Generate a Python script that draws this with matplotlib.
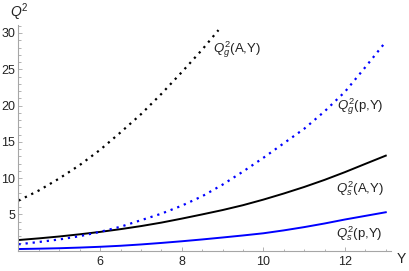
import matplotlib
matplotlib.use("Agg")
import matplotlib.pyplot as plt
from matplotlib.ticker import MultipleLocator

plt.rcParams['font.family'] = 'Liberation Sans'
plt.rcParams['mathtext.fontset'] = 'custom'
plt.rcParams['mathtext.rm'] = 'Liberation Sans'
plt.rcParams['mathtext.it'] = 'Liberation Sans:italic'

# rapidity grid and saturation scales
Y = [4.0, 4.5, 5.0, 5.5, 6.0, 6.5, 7.0, 7.5, 8.0, 8.5,
     9.0, 9.5, 10.0, 10.5, 11.0, 11.5, 12.0, 12.5, 13.0]
qs_p = [0.23, 0.28, 0.34, 0.43, 0.54, 0.68, 0.86, 1.07, 1.30, 1.55,
        1.82, 2.10, 2.40, 2.80, 3.25, 3.75, 4.30, 4.80, 5.30]
qs_A = [1.47, 1.70, 1.96, 2.26, 2.59, 2.97, 3.39, 3.87, 4.42, 5.00,
        5.60, 6.27, 7.04, 7.88, 8.78, 9.76, 10.83, 11.97, 13.10]
qg_p = [0.88, 1.20, 1.55, 2.00, 2.60, 3.30, 4.20, 5.10, 6.20, 7.50,
        9.10, 10.90, 12.80, 14.80, 16.80, 19.20, 21.90, 25.30, 28.80]
Y_gA = [4.0, 4.5, 5.0, 5.5, 6.0, 6.5, 7.0, 7.5, 8.0, 8.5, 8.9]
qg_A = [6.9, 8.3, 9.96, 11.8, 13.9, 16.3, 18.8, 21.6, 24.6, 27.7, 30.4]

fig = plt.figure(figsize=(4.09, 2.71), dpi=100)
ax = fig.add_axes([0.0452, 0.0749, 0.911, 0.8328])

dots = (0, (1, 2.2))
ax.plot(Y, qs_p, color='#0000ff', lw=1.4)
ax.plot(Y, qs_A, color='black', lw=1.4)
ax.plot(Y, qg_p, color='#0000ff', lw=1.6, linestyle=dots)
ax.plot(Y_gA, qg_A, color='black', lw=1.6, linestyle=dots)

ax.set_xlim(4, 13.13)
ax.set_ylim(0, 31.1)

ax.set_xticks([6, 8, 10, 12])
ax.set_yticks([5, 10, 15, 20, 25, 30])
ax.xaxis.set_minor_locator(MultipleLocator(0.5))
ax.yaxis.set_minor_locator(MultipleLocator(1))

gray = '#a6a6a6'
for s in ['top', 'right']:
    ax.spines[s].set_visible(False)
for s in ['left', 'bottom']:
    ax.spines[s].set_color(gray)
    ax.spines[s].set_linewidth(0.8)
ax.tick_params(which='both', direction='in', color=gray, width=0.6,
               labelsize=9, labelcolor='#222222')
ax.tick_params(which='major', length=3)
ax.tick_params(which='minor', length=1.8)
ax.tick_params(axis='x', pad=3.5)
ax.tick_params(axis='y', pad=2.5)

lab = dict(fontsize=9.5, ha='left', va='center', color='#222222')
ax.text(8.77, 27.7, r'$Q_g^2$(A,Y)', **lab)
ax.text(11.81, 19.9, r'$Q_g^2$(p,Y)', **lab)
ax.text(11.78, 8.6, r'$Q_s^2$(A,Y)', **lab)
ax.text(11.78, 2.3, r'$Q_s^2$(p,Y)', **lab)

fig.text(0.0465, 0.955, r'$Q^2$', fontsize=10, ha='center', va='center',
         color='#222222')
fig.text(0.980, 0.044, 'Y', fontsize=10, ha='center', va='center',
         color='#222222')

fig.savefig('out.png', dpi=100)
